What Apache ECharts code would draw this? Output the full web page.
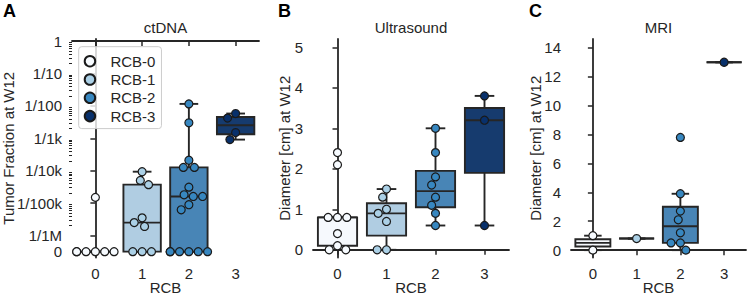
<!DOCTYPE html>
<html>
<head>
<meta charset="utf-8">
<script src="https://cdn.jsdelivr.net/npm/echarts@6/dist/echarts.min.js"></script>
<style>
html, body { margin: 0; padding: 0; background: #fff; }
#chart { width: 750px; height: 298px; }
</style>
</head>
<body>
<div id="chart"></div>
<script>
var groups = ['0', '1', '2', '3'];
var groupNames = ['RCB-0', 'RCB-1', 'RCB-2', 'RCB-3'];
var pointColors = ['#f7fbff', '#abd0e6', '#3787c0', '#08306b'];
var boxColors = ['#f6f9fd', '#b0cde2', '#4885b6', '#163b6e'];

// ctDNA tumor fraction at W12 (0 = not detected)
var ctdna0 = [0, 0, 0, 0, 0, 0, 1.5e-5];
var ctdna1 = [9.3e-5, 5.0e-5, 3.7e-5, 3.5e-6, 2.5e-6, 1.9e-6, 0, 0, 0];
var ctdna2 = [1.15e-2, 3.0e-3, 2.1e-4, 1.26e-4, 1.26e-4, 3.1e-5, 1.8e-5, 1.6e-5, 1.6e-5, 8.9e-6, 6.2e-6, 0, 0, 0, 0, 0, 0];
var ctdna3 = [5.8e-3, 4.2e-3, 1.5e-3, 9.1e-4];
var ctdnaTicks = [0, 1e-6, 1e-5, 1e-4, 1e-3, 1e-2, 1e-1, 1];
var ctdnaTickLabels = ['0', '1/1M', '1/100k', '1/10k', '1/1k', '1/100', '1/10', '1'];

// ultrasound diameter [cm] at W12
var us0 = [2.4, 2.1, 0.8, 0.8, 0.8, 0.4, 0.1, 0, 0];
var us1 = [1.5, 1.3, 1.0, 0.9, 0.7, 0, 0];
var us2 = [3.0, 2.4, 1.8, 1.6, 1.3, 1.1, 0.9, 0.6];
var us3 = [3.8, 3.2, 0.6];
var usTicks = [0, 1, 2, 3, 4, 5];

// MRI diameter [cm] at W12
var mri0 = [1.0, 0];
var mri1 = [0.8];
var mri2 = [7.8, 3.9, 2.7, 2.1, 1.2, 0.5, 0.5, 0];
var mri3 = [13.0];
var mriTicks = [0, 2, 4, 6, 8, 10, 12, 14];

var ZERO_POS = -6.5; // where "0" sits on the log axis
function toLog(v) { return v > 0 ? Math.log10(v) : ZERO_POS; }

var font = 'Liberation Sans, Arial, sans-serif';
var ink = '#262626';
var edge = '#262626';

var panels = [
    { title: 'ctDNA', letter: 'A', yName: 'Tumor Fraction at W12', nameGap: 56,
      data: [ctdna0, ctdna1, ctdna2, ctdna3].map(function (a) { return a.map(toLog); }),
      min: -6.68, max: 0.064, ticks: ctdnaTicks.map(toLog), labels: ctdnaTickLabels,
      grid: { left: 72, top: 39, width: 187, height: 218.5, outerBoundsMode: 'none' } },
    { title: 'Ultrasound', letter: 'B', yName: 'Diameter [cm] at W12', nameGap: 21,
      data: [us0, us1, us2, us3],
      min: -0.19, max: 5.205, ticks: usTicks, labels: usTicks.map(String),
      grid: { left: 313, top: 39, width: 196, height: 218.5, outerBoundsMode: 'none' } },
    { title: 'MRI', letter: 'C', yName: 'Diameter [cm] at W12', nameGap: 28.5,
      data: [mri0, mri1, mri2, mri3],
      min: -0.51, max: 14.61, ticks: mriTicks, labels: mriTicks.map(String),
      grid: { left: 571, top: 39, width: 175, height: 218.5, outerBoundsMode: 'none' } }
];

function quantile(sorted, q) {
    var pos = (sorted.length - 1) * q;
    var lo = Math.floor(pos), hi = Math.ceil(pos);
    return sorted[lo] + (sorted[hi] - sorted[lo]) * (pos - lo);
}

function boxStats(values, k) {
    var s = values.slice().sort(function (a, b) { return a - b; });
    var q1 = quantile(s, 0.25), med = quantile(s, 0.5), q3 = quantile(s, 0.75);
    var iqr = q3 - q1;
    var inside = s.filter(function (v) { return v >= q1 - 1.5 * iqr && v <= q3 + 1.5 * iqr; });
    return [k, inside[0], q1, med, q3, inside[inside.length - 1]];
}

function renderBox(params, api) {
    var k = api.value(0);
    var band = api.size([1, 0])[0];
    var bw = band * 0.8, cw = bw / 2;
    var cx = api.coord([k, api.value(3)])[0];
    var yMin = api.coord([k, api.value(1)])[1];
    var yQ1 = api.coord([k, api.value(2)])[1];
    var yMed = api.coord([k, api.value(3)])[1];
    var yQ3 = api.coord([k, api.value(4)])[1];
    var yMax = api.coord([k, api.value(5)])[1];
    var line = { stroke: edge, lineWidth: 1.9, fill: null };
    return {
        type: 'group',
        children: [
            { type: 'line', shape: { x1: cx, y1: yQ3, x2: cx, y2: yMax }, style: line },
            { type: 'line', shape: { x1: cx, y1: yQ1, x2: cx, y2: yMin }, style: line },
            { type: 'line', shape: { x1: cx - cw / 2, y1: yMax, x2: cx + cw / 2, y2: yMax }, style: line },
            { type: 'line', shape: { x1: cx - cw / 2, y1: yMin, x2: cx + cw / 2, y2: yMin }, style: line },
            { type: 'rect', shape: { x: cx - bw / 2, y: yQ3, width: bw, height: yQ1 - yQ3 },
              style: { fill: boxColors[k], stroke: edge, lineWidth: 1.9 } },
            { type: 'line', shape: { x1: cx - bw / 2, y1: yMed, x2: cx + bw / 2, y2: yMed }, style: line }
        ]
    };
}

var grid = [], xAxis = [], yAxis = [], series = [], graphic = [];

panels.forEach(function (p, g) {
    grid.push(p.grid);
    xAxis.push({
        type: 'category', gridIndex: g, data: groups,
        name: 'RCB', nameLocation: 'middle', nameGap: 22, nameMoveOverlap: false,
        nameTextStyle: { fontSize: 15, color: ink, fontFamily: font },
        axisLine: { show: true, lineStyle: { color: ink, width: 1.8 } },
        axisTick: { show: true, alignWithLabel: true, length: 5, lineStyle: { color: ink, width: 1.5 } },
        axisLabel: { fontSize: 15, color: ink, fontFamily: font, margin: 8 },
        splitLine: { show: false }
    });
    yAxis.push({
        type: 'value', gridIndex: g, min: p.min, max: p.max,
        name: p.yName, nameLocation: 'middle', nameGap: p.nameGap, nameMoveOverlap: false,
        nameTextStyle: { fontSize: 15, color: ink, fontFamily: font },
        axisLine: { show: true, lineStyle: { color: ink, width: 1.8 } },
        axisTick: { show: true, length: 5, customValues: p.ticks, lineStyle: { color: ink, width: 1.5 } },
        axisLabel: {
            fontSize: 15, color: ink, fontFamily: font, margin: 10, customValues: p.ticks,
            formatter: function (v) {
                for (var i = 0; i < p.ticks.length; i++) {
                    if (Math.abs(p.ticks[i] - v) < 1e-6) return p.labels[i];
                }
                return '';
            }
        },
        splitLine: { show: false }
    });
    graphic.push({
        type: 'text', x: p.grid.left + p.grid.width / 2, y: 27.5,
        style: { text: p.title, font: '15px ' + font, fill: ink, align: 'center', verticalAlign: 'middle',
                 textAlign: 'center', textVerticalAlign: 'middle' }
    });
    graphic.push({
        type: 'text', x: [3, 278, 529][g], y: 11,
        style: { text: p.letter, font: 'bold 18px ' + font, fill: '#000', align: 'left', verticalAlign: 'middle',
                 textAlign: 'left', textVerticalAlign: 'middle' }
    });
    series.push({
        type: 'custom', xAxisIndex: g, yAxisIndex: g, z: 2,
        renderItem: renderBox,
        encode: { x: 0, y: [1, 2, 3, 4, 5] },
        data: p.data.map(boxStats)
    });
});

// hidden value x axes used to place the swarm points
panels.forEach(function (p, g) {
    xAxis.push({ type: 'value', gridIndex: g, min: -0.5, max: 3.5, show: false });
});

// log minor ticks for the ctDNA axis
var minorTicks = [];
for (var n = -6; n < 0; n++) {
    for (var m = 2; m <= 9; m++) minorTicks.push(n + Math.log10(m));
}
yAxis.push({
    type: 'value', gridIndex: 0, min: panels[0].min, max: panels[0].max, position: 'left',
    axisLine: { show: false }, axisLabel: { show: false }, splitLine: { show: false },
    axisTick: { show: true, length: 3, customValues: minorTicks, lineStyle: { color: ink, width: 1 } }
});

panels.forEach(function (p, g) {
    p.data.forEach(function (vals, k) {
        series.push({
            id: 'pts-' + g + '-' + k, name: groupNames[k], type: 'scatter',
            xAxisIndex: 3 + g, yAxisIndex: g, z: 3,
            symbol: 'circle', symbolSize: 8,
            itemStyle: { color: pointColors[k], borderColor: '#1a1a1a', borderWidth: 1.2, opacity: 1 },
            emphasis: { disabled: true },
            data: vals.map(function (v) { return [k, v]; })
        });
    });
});

var chart = echarts.init(document.getElementById('chart'), null, { renderer: 'svg' });
chart.setOption({
    animation: false,
    backgroundColor: '#fff',
    textStyle: { fontFamily: font },
    grid: grid,
    xAxis: xAxis,
    yAxis: yAxis,
    legend: {
        data: groupNames, orient: 'vertical', left: 78.7, top: 46.7,
        icon: 'circle', itemWidth: 31, itemHeight: 10.5, itemGap: 3.3,
        padding: [7, 6, 5, 5], backgroundColor: 'rgba(255,255,255,0.8)',
        borderColor: '#cccccc', borderWidth: 1, borderRadius: 3, selectedMode: false,
        textStyle: { fontSize: 15, color: ink, fontFamily: font, lineHeight: 15 }
    },
    graphic: graphic,
    series: series
});

// beeswarm placement in pixel space
function swarmOffsets(pys, diam, half) {
    var order = pys.map(function (_, i) { return i; })
        .sort(function (a, b) { return pys[a] - pys[b]; });
    var placed = [], out = [];
    order.forEach(function (i) {
        var y = pys[i];
        var near = placed.filter(function (q) { return Math.abs(q.y - y) < diam; });
        var cands = [0], leftFirst = true;
        near.forEach(function (q) {
            var dx = Math.sqrt(diam * diam - (q.y - y) * (q.y - y)) * 1.05;
            if (leftFirst) cands.push(q.x - dx, q.x + dx); else cands.push(q.x + dx, q.x - dx);
            leftFirst = !leftFirst;
        });
        var sorted = cands.map(function (c, j) { return [c, j]; })
            .sort(function (a, b) { return Math.abs(a[0]) - Math.abs(b[0]) || a[1] - b[1]; });
        var x = 0;
        for (var s = 0; s < sorted.length; s++) {
            var c = sorted[s][0];
            var ok = near.every(function (q) {
                return (q.x - c) * (q.x - c) + (q.y - y) * (q.y - y) >= diam * diam * 0.999;
            });
            if (ok) { x = c; break; }
        }
        placed.push({ x: x, y: y });
        out[i] = x;
    });
    return out.map(function (x) { return Math.max(-half, Math.min(half, x)); });
}

var updates = [];
panels.forEach(function (p, g) {
    var ref = { xAxisIndex: 3 + g, yAxisIndex: g };
    var band = chart.convertToPixel(ref, [1, 0])[0] - chart.convertToPixel(ref, [0, 0])[0];
    p.data.forEach(function (vals, k) {
        var pys = vals.map(function (v) { return chart.convertToPixel(ref, [k, v])[1]; });
        var dxs = swarmOffsets(pys, 8.9, band * 0.4);
        updates.push({
            id: 'pts-' + g + '-' + k,
            data: vals.map(function (v, i) { return [k + dxs[i] / band, v]; })
        });
    });
});
chart.setOption({ series: updates });
</script>
</body>
</html>
